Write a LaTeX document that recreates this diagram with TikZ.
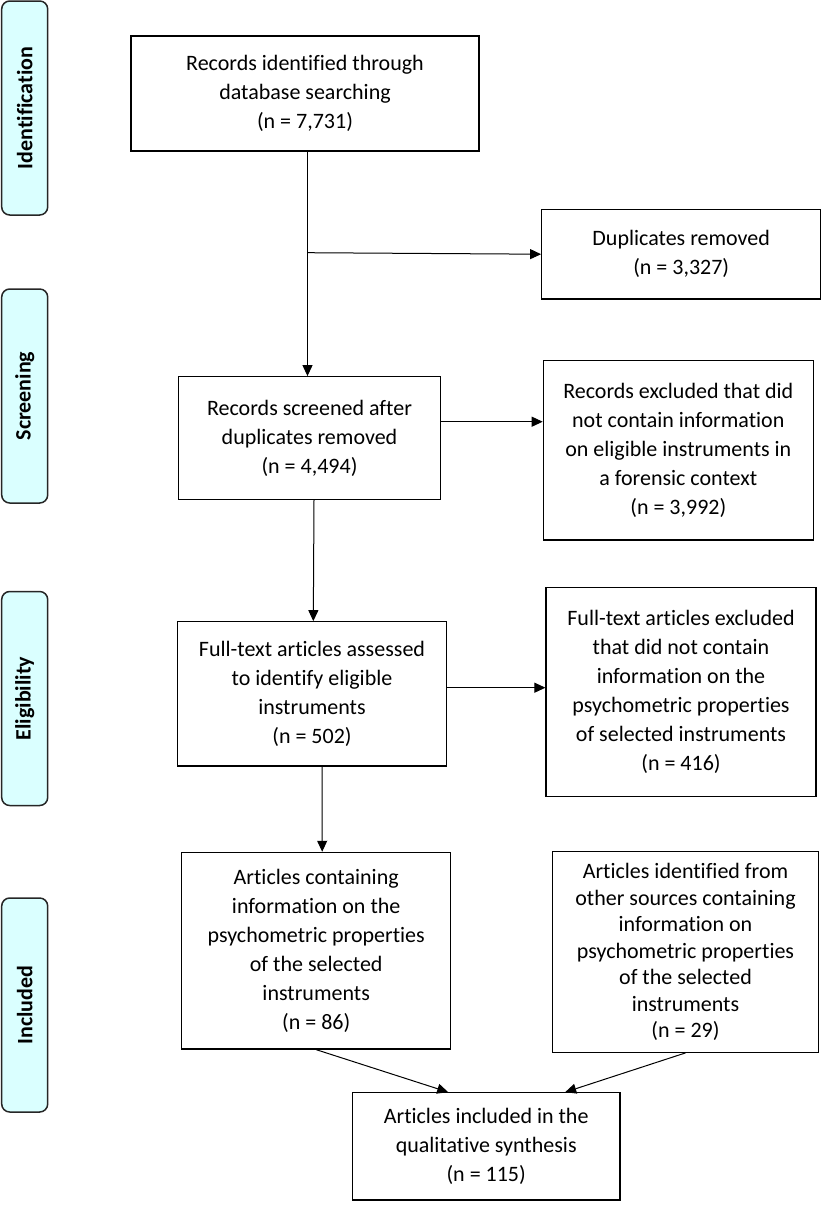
\documentclass[tikz,border=0pt]{standalone}
\usepackage{fontspec}
\setmainfont[Ligatures=NoCommon]{Carlito}
\usetikzlibrary{arrows.meta, calc, positioning}
\definecolor{phasecyan}{RGB}{218,255,255}
\tikzstyle{flow_box}=[rectangle, draw=black, line width=1.2pt, align=center, inner sep=0pt, font=\fontsize{22}{29}\selectfont]
\tikzstyle{phase_box}=[rectangle, rounded corners=8pt, draw=black!85, line width=1.5pt, fill=phasecyan, minimum width=46pt, minimum height=214pt]
\tikzstyle{phase_label}=[rotate=90, inner sep=0pt, font=\fontsize{22}{25}\selectfont\bfseries]
\tikzstyle{flow_arrow}=[line width=1pt, -{Triangle[length=11pt,width=10pt]}]

\begin{document}
\begin{tikzpicture}[x=1pt, y=-1pt]
\useasboundingbox (0,0) rectangle (822,1205);

% Phase labels on the left
\node [phase_box] (ident_bar)  at (24.7,108)    {};
\node [phase_box] (screen_bar) at (24.7,396)    {};
\node [phase_box] (elig_bar)   at (24.7,698.5)  {};
\node [phase_box] (incl_bar)   at (24.7,1005)   {};
\node [phase_label] at (ident_bar)  {Identification};
\node [phase_label] at (screen_bar) {Screening};
\node [phase_label] at (elig_bar)   {Eligibility};
\node [phase_label] at (incl_bar)   {Included};

% Main flow
\node [flow_box, minimum width=348pt, minimum height=115pt] (identified) at (305,93.5)
    {Records identified through\\database searching\\(n = 7,731)};
\node [flow_box, minimum width=262.4pt, minimum height=122.6pt] (screened) at (309.5,438)
    {Records screened after\\duplicates removed\\(n = 4,494)};
\node [flow_box, minimum width=269.4pt, minimum height=144.3pt] (assessed) at (312,693.9)
    {Full-text articles assessed\\to identify eligible\\instruments\\(n = 502)};
\node [flow_box, minimum width=269pt, minimum height=196.7pt] (containing) at (316.2,950.7)
    {Articles containing\\information on the\\psychometric properties\\of the selected\\instruments\\(n = 86)};
\node [flow_box, minimum width=267.7pt, minimum height=107.3pt] (included) at (486.2,1146.4)
    {Articles included in the\\qualitative synthesis\\(n = 115)};

% Exclusions and other sources
\node [flow_box, minimum width=279pt, minimum height=89.7pt] (duplicates) at (681.2,254.2)
    {Duplicates removed\\(n = 3,327)};
\node [flow_box, minimum width=270pt, minimum height=179.3pt] (rec_excluded) at (678.3,450.4)
    {Records excluded that did\\not contain information\\on eligible instruments in\\a forensic context\\(n = 3,992)};
\node [flow_box, minimum width=270pt, minimum height=209pt] (ft_excluded) at (681,692.2)
    {Full-text articles excluded\\that did not contain\\information on the\\psychometric properties\\of selected instruments\\(n = 416)};
\node [flow_box, minimum width=266.4pt, minimum height=200.6pt, font=\fontsize{22}{26.5}\selectfont] (other_sources) at (685.5,952)
    {Articles identified from\\other sources containing\\information on\\psychometric properties\\of the selected\\instruments\\(n = 29)};

% Connectors
\coordinate (dup_branch) at (307.5,252.7);
\draw [flow_arrow] (identified.south -| dup_branch) to (screened.north -| dup_branch);
\draw [flow_arrow] (dup_branch) to (duplicates.west);
\draw [flow_arrow] ([yshift=16.3pt]screened.east) to ([yshift=16.3pt]screened.east -| rec_excluded.west);
\draw [flow_arrow] ([xshift=4.5pt]screened.south) to ([xshift=1.3pt]assessed.north);
\draw [flow_arrow] ([yshift=6.2pt]assessed.east) to ([yshift=6.2pt]assessed.east -| ft_excluded.west);
\draw [flow_arrow] ([xshift=10pt]assessed.south) to ([xshift=6pt]containing.north);
\draw [flow_arrow] (containing.south) to ([xshift=-38pt]included.north);
\draw [flow_arrow] (other_sources.south) to ([xshift=79pt]included.north);

\end{tikzpicture}
\end{document}
